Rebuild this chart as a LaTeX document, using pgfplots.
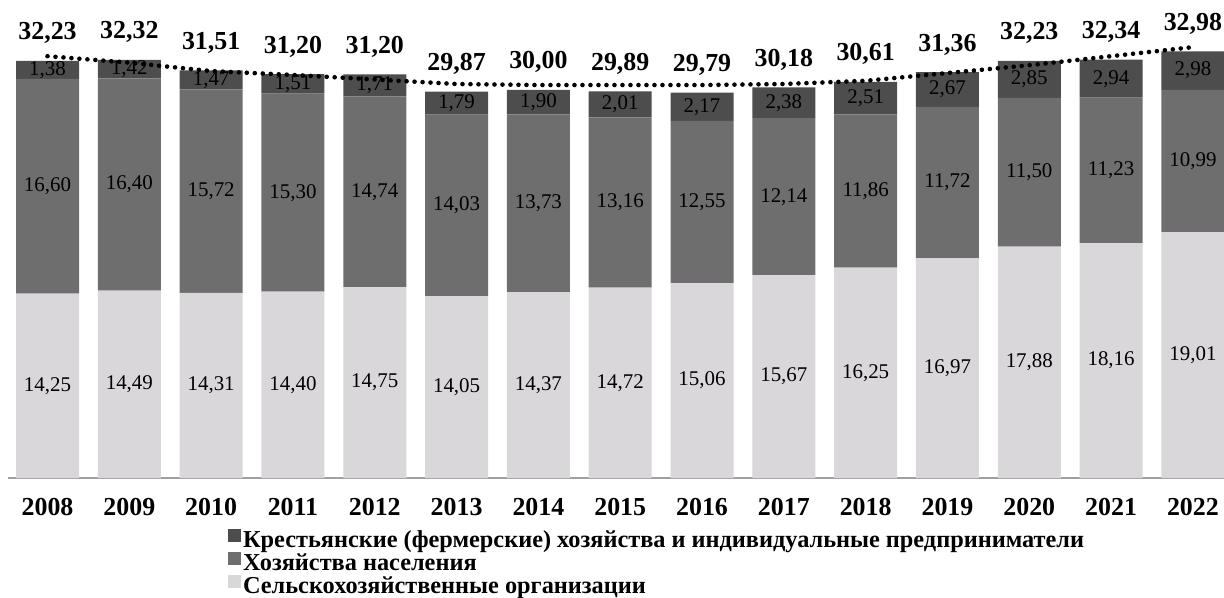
\documentclass[border=0pt]{standalone}
\usepackage{fontspec}
\setmainfont{Liberation Serif}
\usepackage{pgfplots}
\usepackage{pgfplotstable}
\pgfplotsset{compat=1.18}
\definecolor{cLight}{HTML}{D9D7D9}
\definecolor{cMid}{HTML}{6E6E6E}
\definecolor{cDark}{HTML}{4D4D4D}
\definecolor{cAxis}{HTML}{A0A0A0}

\pgfplotstableread{
x year org nas kfh total trend
0  2008 14.25 16.60 1.38 32.23 32.60
1  2009 14.49 16.40 1.42 32.32 32.10
2  2010 14.31 15.72 1.47 31.51 31.45
3  2011 14.40 15.30 1.51 31.20 31.15
4  2012 14.75 14.74 1.71 31.20 30.80
5  2013 14.05 14.03 1.79 29.87 30.45
6  2014 14.37 13.73 1.90 30.00 30.37
7  2015 14.72 13.16 2.01 29.89 30.37
8  2016 15.06 12.55 2.17 29.79 30.37
9  2017 15.67 12.14 2.38 30.18 30.45
10 2018 16.25 11.86 2.51 30.61 30.70
11 2019 16.97 11.72 2.67 31.36 31.30
12 2020 17.88 11.50 2.85 32.23 31.90
13 2021 18.16 11.23 2.94 32.34 32.60
14 2022 19.01 10.99 2.98 32.98 33.30
}\data

\pgfplotsset{
  base/.style={at={(0,0)}, anchor=south west, scale only axis,
    width=608bp, height=232.9bp, xmin=-0.483, xmax=14.38, ymin=0, ymax=36, clip=false,
    /pgf/number format/.cd, use comma, fixed, fixed zerofill, precision=2, assume math mode=true},
  seglab/.style={draw=none, mark=none, nodes near coords, point meta=explicit,
    every node near coord/.append style={font=\fontsize{10.5}{12}\selectfont, anchor=center, inner sep=0pt, text=black}},
}

\begin{document}
\begin{tikzpicture}
\path[use as bounding box] (-4bp,-60bp) rectangle (608bp,239bp);
\begin{axis}[base, ybar stacked, bar width=31.5bp,
  axis x line*=bottom, axis y line=none,
  x axis line style={draw=cAxis, line width=1bp, -},
  xtick={0,...,14}, xticklabels={2008,2009,2010,2011,2012,2013,2014,2015,2016,2017,2018,2019,2020,2021,2022},
  major tick length=0pt,
  xticklabel style={font=\fontsize{13}{15}\selectfont\bfseries, anchor=base, yshift=-18.5bp, inner sep=0pt},
]
\addplot[fill=cLight, draw=none] table[x=x, y=org]{\data};
\addplot[fill=cMid, draw=none] table[x=x, y=nas]{\data};
\addplot[fill=cDark, draw=none] table[x=x, y=kfh]{\data};
\end{axis}
\begin{axis}[base, hide axis,
  legend image code/.code={\fill[#1] (0bp,-0.5bp) rectangle (6.5bp,6bp);},
  legend cell align=left,
  legend style={at={(axis description cs:0.181,-0.110)}, anchor=north west, draw=none, fill=none,
    inner sep=0pt, outer sep=0pt, row sep=0pt, column sep=1bp,
    nodes={inner sep=0pt, text height=8.5bp, text depth=2.4bp, font=\fontsize{12.2}{12}\selectfont\bfseries}},
]
\addlegendimage{fill=cDark, draw=none}
\addlegendentry{Крестьянские (фермерские) хозяйства и индивидуальные предприниматели}
\addlegendimage{fill=cMid, draw=none}
\addlegendentry{Хозяйства населения}
\addlegendimage{fill=cLight, draw=none}
\addlegendentry{Сельскохозяйственные организации}

\addplot[black, line width=2.3bp, dash pattern=on 0bp off 4bp, line cap=round] table[x=x, y=trend]{\data};
\addplot[seglab] table[x=x, y expr=\thisrow{org}/2, meta=org]{\data};
\addplot[seglab] table[x=x, y expr=\thisrow{org}+\thisrow{nas}/2, meta=nas]{\data};
\addplot[seglab] table[x=x, y expr=\thisrow{org}+\thisrow{nas}+\thisrow{kfh}/2, meta=kfh]{\data};
\addplot[draw=none, mark=none, nodes near coords, point meta=explicit,
  every node near coord/.append style={font=\fontsize{13}{15}\selectfont\bfseries, anchor=base, yshift=10.5bp, inner sep=0pt, text=black}]
  table[x=x, y=total, meta=total]{\data};
\end{axis}
\end{tikzpicture}
\end{document}
